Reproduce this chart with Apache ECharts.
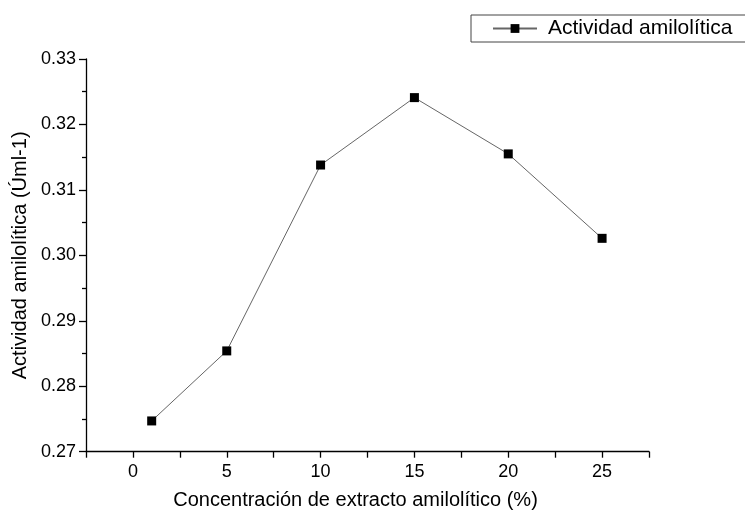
<!DOCTYPE html>
<html>
<head>
<meta charset="utf-8">
<script src="https://cdn.jsdelivr.net/npm/echarts@6/dist/echarts.min.js"></script>
<style>html,body{margin:0;padding:0;background:#fff;}#c{width:745px;height:511px;}</style>
</head>
<body>
<div id="c"></div>
<script>
const concentrations = [1, 5, 10, 15, 20, 25];
const activity = [0.2747, 0.2854, 0.3138, 0.3241, 0.3155, 0.3026];
const seriesName = 'Actividad amilolítica';
const xTitle = 'Concentración de extracto amilolítico (%)';
const yTitle = 'Actividad amilolítica (Úml-1)';

const chart = echarts.init(document.getElementById('c'), null, {renderer: 'canvas'});
const font = 'Liberation Sans, Arial, sans-serif';
chart.setOption({
  animation: false,
  backgroundColor: '#ffffff',
  grid: {left: 86, top: 59, right: 96, bottom: 59.3, containLabel: false, outerBoundsMode: 'none'},
  legend: {
    show: true,
    left: 471, top: 15,
    padding: [3, 14, 3, 21],
    borderColor: '#444', borderWidth: 1, borderRadius: 0,
    itemWidth: 44, itemHeight: 11,
    textStyle: {fontFamily: font, fontSize: 21, color: '#000', padding: [0, 0, 0, 6]},
    data: [{name: seriesName}]
  },
  xAxis: {
    type: 'value', min: -2.5, max: 27.5, interval: 2.5,
    name: xTitle, nameLocation: 'middle', nameGap: 39,
    nameTextStyle: {fontFamily: font, fontSize: 20, color: '#000', padding: [0, 24, 0, 0]},
    axisLine: {show: true, onZero: false, lineStyle: {color: '#000', width: 1.3}},
    axisTick: {show: true, inside: false, length: 6, lineStyle: {color: '#000', width: 1.3}},
    axisLabel: {fontFamily: font, fontSize: 18, color: '#000', margin: 11,
      formatter: v => (Math.abs(v % 5) < 1e-9 ? String(v) : '')},
    splitLine: {show: false}
  },
  yAxis: {
    type: 'value', min: 0.27, max: 0.33, interval: 0.01,
    name: yTitle, nameLocation: 'middle', nameGap: 52,
    nameTextStyle: {fontFamily: font, fontSize: 20, color: '#000'},
    axisLine: {show: true, onZero: false, lineStyle: {color: '#000', width: 1.3}},
    axisTick: {show: true, inside: false, length: 7, lineStyle: {color: '#000', width: 1.3}},
    minorTick: {show: true, splitNumber: 2, length: 4, lineStyle: {color: '#000', width: 1.3}},
    axisLabel: {fontFamily: font, fontSize: 18, color: '#000', margin: 10,
      formatter: v => v.toFixed(2)},
    splitLine: {show: false}
  },
  series: [{
    name: seriesName,
    type: 'line',
    data: concentrations.map((x, i) => [x, activity[i]]),
    symbol: 'rect', symbolSize: 9,
    itemStyle: {color: '#000'},
    lineStyle: {color: '#666', width: 1},
    z: 3
  }]
});
</script>
</body>
</html>
